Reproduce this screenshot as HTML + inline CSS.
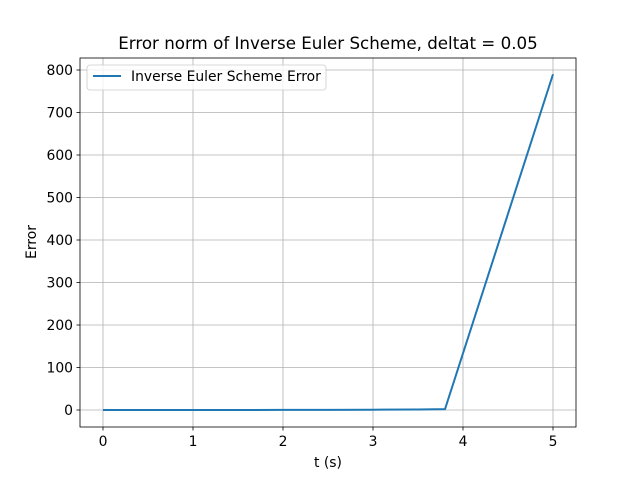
<!DOCTYPE html>
<html><head><meta charset="utf-8"><style>body{margin:0;background:#fff}svg{display:block}</style></head>
<body>
<svg id="chart" width="640" height="480" font-family="DejaVu Sans, Liberation Sans, sans-serif"></svg>
<script>
const tValues=[0,0.5,1,1.5,2,2.5,3,3.5,3.8,5];
const errValues=[0,0,0,0.1,0.2,0.4,0.7,1.2,2,790];
const xTicks=[0,1,2,3,4,5];
const yTicks=[0,100,200,300,400,500,600,700,800];
const NS="http://www.w3.org/2000/svg";
const svg=document.getElementById('chart');
const L=80,R=576,T=58,B=427;
const xs=t=>103+t*90;
const ys=v=>410-v*0.425;
function el(tag,attrs,parent){const e=document.createElementNS(NS,tag);for(const k in attrs)e.setAttribute(k,attrs[k]);(parent||svg).appendChild(e);return e;}
const grid=el('g',{});


xTicks.forEach(t=>{const x=xs(t);
 el('line',{x1:x,x2:x,y1:T,y2:B,stroke:'#b0b0b0','stroke-width':0.8},grid);
 el('line',{x1:x,x2:x,y1:B,y2:B+3.5,stroke:'#000','stroke-width':0.8});
 const tx=el('text',{x:x,y:B+19,'font-size':13.9,'text-anchor':'middle'});tx.textContent=t;
 
 });
yTicks.forEach(v=>{const y=ys(v);
 el('line',{x1:L,x2:R,y1:y,y2:y,stroke:'#b0b0b0','stroke-width':0.8},grid);
 el('line',{x1:L-3.5,x2:L,y1:y,y2:y,stroke:'#000','stroke-width':0.8});
 const tx=el('text',{x:L-7,y:y+5,'font-size':13.9,'text-anchor':'end'});tx.textContent=v;
 
 });
const line=el('polyline',{points:tValues.map((t,i)=>xs(t)+','+ys(errValues[i])).join(' '),fill:'none',stroke:'#1f77b4','stroke-width':2});


const frame=el('rect',{x:L,y:T,width:R-L,height:B-T,fill:'none',stroke:'#000','stroke-width':0.8});


const title=el('text',{x:328,y:49,'font-size':16.7,'text-anchor':'middle'});title.textContent='Error norm of Inverse Euler Scheme, deltat = 0.05';


const xl=el('text',{x:328,y:467,'font-size':13.9,'text-anchor':'middle'});xl.textContent='t (s)';


const yl=el('text',{x:36,y:242,'font-size':13.9,'text-anchor':'middle',transform:'rotate(-90 36 242)'});yl.textContent='Error';


const lg=el('g',{});


el('rect',{x:87,y:65,width:239,height:25,rx:3,fill:'#fff','fill-opacity':0.8,stroke:'#ccc','stroke-width':0.8},lg);
el('line',{x1:93,x2:121,y1:76,y2:76,stroke:'#1f77b4','stroke-width':2},lg);
const lt=el('text',{x:131,y:81,'font-size':13.9},lg);lt.textContent='Inverse Euler Scheme Error';


</script>
</body></html>
